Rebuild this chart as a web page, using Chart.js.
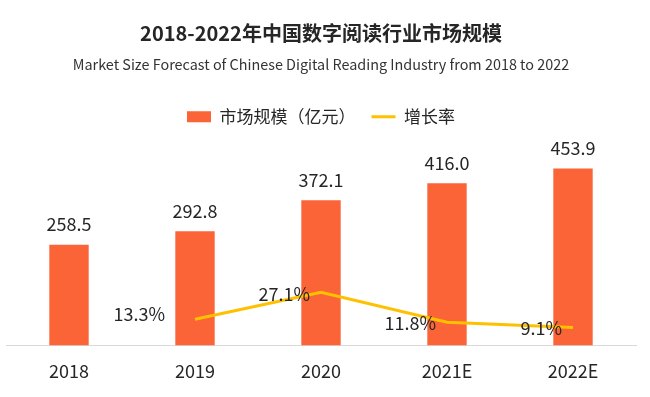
<!DOCTYPE html>
<html>
<head>
<meta charset="utf-8">
<script src="https://cdn.jsdelivr.net/npm/chart.js@4.4.1/dist/chart.umd.min.js"></script>
<style>
  html, body { margin: 0; padding: 0; background: #fff; }
  #wrap { width: 650px; height: 397px; position: relative; }
</style>
</head>
<body>
<div id="wrap"><canvas id="chart"></canvas></div>
<script>
const years = ['2018', '2019', '2020', '2021E', '2022E'];
const marketSize = [258.5, 292.8, 372.1, 416.0, 453.9];
const growthRate = [null, 13.3, 27.1, 11.8, 9.1];

const FONT = '"Noto Sans CJK SC", "Noto Sans", sans-serif';
const TEXT = '#262626';

// value labels: above each bar, and left of each line point
const valueLabels = {
  id: 'valueLabels',
  afterDatasetsDraw(chart, args, opts) {
    const ctx = chart.ctx;
    ctx.save();
    ctx.font = `18px ${FONT}`;
    ctx.fillStyle = TEXT;
    chart.getDatasetMeta(0).data.forEach((bar, i) => {
      ctx.textAlign = 'center';
      ctx.textBaseline = 'alphabetic';
      ctx.fillText(marketSize[i].toFixed(1), bar.x, bar.y - 13.5);
    });
    chart.getDatasetMeta(1).data.forEach((pt, i) => {
      if (growthRate[i] == null) return;
      const [dx, dy] = opts.shift[i] || [-11, 1];
      ctx.textAlign = 'right';
      ctx.textBaseline = 'middle';
      ctx.fillText(growthRate[i].toFixed(1) + '%', pt.x + dx, pt.y + dy);
    });
    ctx.restore();
  }
};

new Chart(document.getElementById('chart'), {
  data: {
    labels: years,
    datasets: [
      {
        type: 'bar',
        label: '市场规模（亿元）',
        data: marketSize,
        backgroundColor: '#FA6436',
        yAxisID: 'y',
        order: 1,
        barPercentage: 0.3125,
        categoryPercentage: 1,
        pointStyle: 'rect'
      },
      {
        type: 'line',
        label: '增长率',
        data: growthRate,
        borderColor: '#FFC000',
        backgroundColor: '#FFC000',
        borderWidth: 3,
        pointRadius: 0,
        tension: 0,
        yAxisID: 'y1',
        order: 0,
        pointStyle: 'line'
      }
    ]
  },
  options: {
    responsive: true,
    maintainAspectRatio: false,
    animation: false,
    layout: { padding: { left: 6, right: 14, top: 0, bottom: 0 } },
    plugins: {
      title: {
        display: true,
        text: '2018-2022年中国数字阅读行业市场规模',
        color: TEXT,
        font: { family: FONT, size: 20, weight: 'bold' },
        padding: { top: 21, bottom: 0 }
      },
      subtitle: {
        display: true,
        text: 'Market Size Forecast of Chinese Digital Reading Industry from 2018 to 2022',
        color: '#333',
        font: { family: FONT, size: 14.4 },
        padding: { top: 11, bottom: 19 }
      },
      legend: {
        labels: {
          usePointStyle: true,
          pointStyleWidth: 24,
          boxHeight: 11,
          padding: 16,
          color: TEXT,
          font: { family: FONT, size: 17 },
          sort: (a, b) => a.datasetIndex - b.datasetIndex
        }
      },
      tooltip: { enabled: false },
      valueLabels: { shift: [null, [-30, -5], [-11, 2], [-11, 1], [-11, 1]] }
    },
    scales: {
      x: {
        grid: { display: false, drawTicks: false },
        border: { color: '#d9d9d9', width: 1 },
        ticks: { color: TEXT, font: { family: FONT, size: 18 }, padding: 15 }
      },
      y: { display: false, min: 0, max: 539 },
      y1: { display: false, position: 'right', min: 0, max: 107 }
    }
  },
  plugins: [valueLabels]
});
</script>
</body>
</html>
